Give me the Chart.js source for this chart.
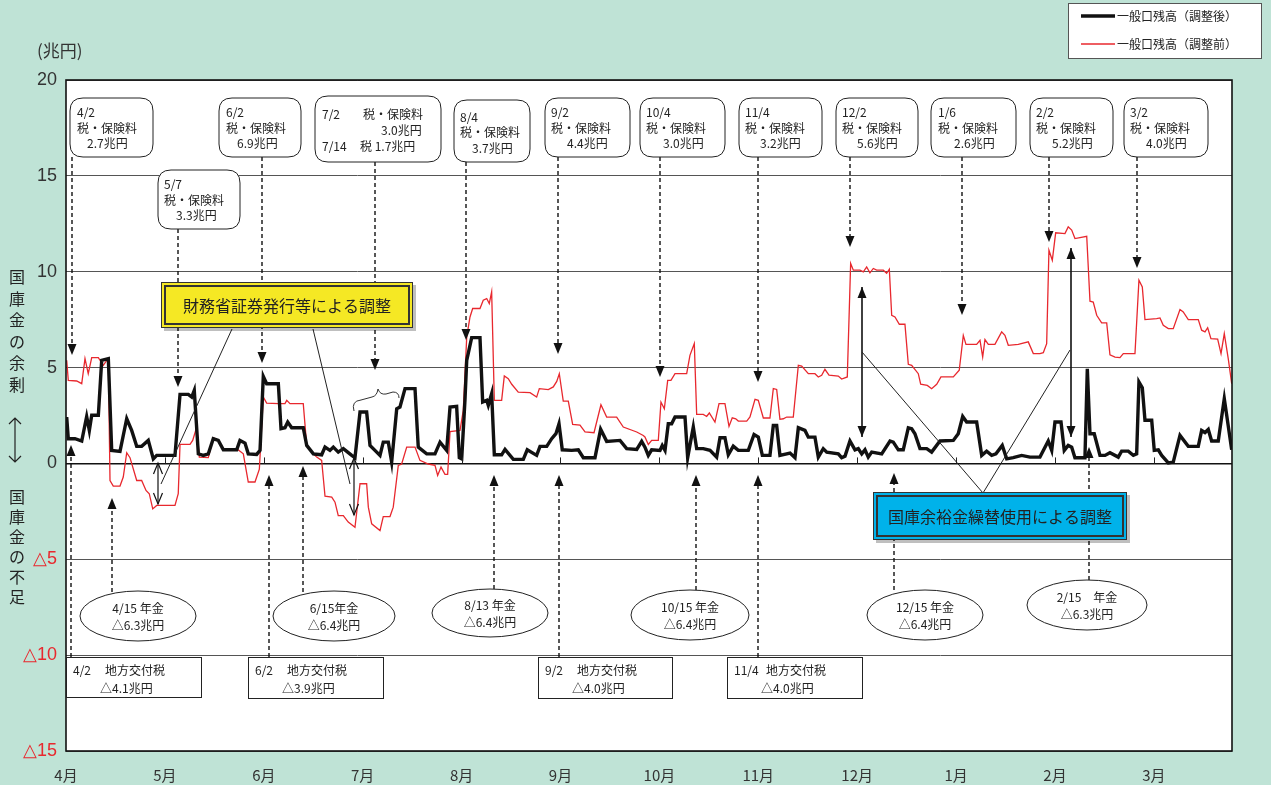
<!DOCTYPE html>
<html>
<head>
<meta charset="utf-8">
<script src="https://cdn.jsdelivr.net/npm/chart.js@4.4.0/dist/chart.umd.min.js"></script>
<style>
  html, body { margin: 0; padding: 0; background: #bfe3d6; }
  #wrap { width: 1271px; height: 785px; }
</style>
</head>
<body>
<div id="wrap"><canvas id="chart" width="1271" height="785"></canvas></div>
<script>
// 一般口残高の推移（調整後／調整前）
const monthLabels = ['4月', '5月', '6月', '7月', '8月', '9月', '10月', '11月', '12月', '1月', '2月', '3月'];
const yTickValues = [-15, -10, -5, 0, 5, 10, 15, 20];

// x は 4月初 = 0 とした月単位の位置
const adjX = [
  0.007, 0.023, 0.091, 0.159, 0.209, 0.236, 0.26, 0.327, 0.361, 0.428, 0.462, 0.546, 0.614, 0.664, 0.715, 0.765, 0.832, 0.883, 0.917, 1.102,
  1.153, 1.237, 1.271, 1.297, 1.338, 1.388, 1.439, 1.489, 1.54, 1.591, 1.726, 1.759, 1.81, 1.843, 1.928,
  1.962, 1.995, 2.029, 2.147, 2.174, 2.214, 2.242, 2.282, 2.399, 2.434, 2.501, 2.585, 2.619, 2.669, 2.703, 2.753, 2.804, 2.889, 2.922, 2.973,
  3.04, 3.074, 3.124, 3.175, 3.208, 3.259, 3.293, 3.344, 3.377, 3.428, 3.529, 3.562, 3.647, 3.731, 3.782, 3.849, 3.883,
  3.95, 3.977, 4.001, 4.034, 4.052, 4.102, 4.186, 4.213, 4.254, 4.27, 4.304, 4.331, 4.405, 4.439, 4.523, 4.624, 4.664, 4.759, 4.793, 4.861,
  4.911, 4.954, 4.985, 5.018, 5.113, 5.18, 5.231, 5.349, 5.406, 5.467, 5.602, 5.669, 5.771, 5.821,
  5.854, 5.888, 5.922, 6.006, 6.029, 6.057, 6.09, 6.124, 6.158, 6.259, 6.286, 6.343, 6.377, 6.444, 6.512, 6.579, 6.613, 6.663, 6.697, 6.747,
  6.798, 6.899, 6.957, 7.0, 7.041, 7.118, 7.152, 7.186, 7.219, 7.321, 7.371, 7.405, 7.472, 7.506, 7.573, 7.607, 7.657, 7.692, 7.809, 7.843,
  7.877, 7.927, 7.978, 8.011, 8.046, 8.079, 8.112, 8.147, 8.248, 8.332, 8.365, 8.416, 8.466, 8.517, 8.551, 8.584, 8.635, 8.703, 8.753, 8.837,
  8.972, 9.022, 9.067, 9.107, 9.208, 9.259, 9.309, 9.36, 9.403, 9.467, 9.512, 9.578, 9.663, 9.747, 9.848,
  9.932, 9.967, 10.0, 10.061, 10.094, 10.134, 10.169, 10.202, 10.303, 10.327, 10.354, 10.397, 10.455, 10.506, 10.556, 10.64, 10.674, 10.741, 10.792, 10.826,
  10.849, 10.883, 10.91, 10.978, 11.004, 11.045, 11.079, 11.146, 11.196, 11.264, 11.348, 11.449, 11.483, 11.517, 11.55, 11.584, 11.651, 11.712, 11.787
];
const adjY = [
  2.42, 1.29, 1.29, 1.17, 2.45, 1.72, 2.51, 2.51, 5.38, 5.47, 0.68, 0.63, 2.33, 1.72, 0.89, 0.89, 1.2, 0.24, 0.42, 0.42,
  3.6, 3.6, 3.46, 3.81, 0.5, 0.42, 0.5, 1.29, 1.2, 0.71, 0.71, 1.2, 1.06, 0.5, 0.47,
  0.68, 4.54, 4.16, 4.16, 1.81, 1.86, 2.16, 1.86, 1.86, 0.94, 0.5, 0.45, 0.85, 0.68, 0.85, 0.59, 0.77, 0.42, 0.3, 2.68,
  2.68, 0.94, 0.68, 0.42, 1.11, 1.11, 0.07, 2.85, 2.94, 3.9, 3.9, 0.85, 0.5, 0.5, 1.11, 0.68, 2.94,
  2.98, 0.3, 0.24, 3.29, 5.38, 6.56, 6.56, 3.2, 3.29, 3.03, 3.64, 0.45, 0.45, 0.73, 0.21, 0.21, 0.71, 0.42, 0.89, 0.89,
  1.29, 1.55, 2.07, 0.71, 0.68, 0.71, 0.3, 0.3, 1.78, 1.15, 1.2, 0.77, 0.73, 1.15,
  0.85, 0.42, 0.71, 0.68, 0.94, 0.68, 2.07, 2.07, 2.42, 2.42, 0.3, 1.9, 0.77, 0.77, 0.68, 0.33, 1.34, 1.34, 0.45, 0.9,
  0.68, 0.68, 1.51, 1.37, 0.42, 0.42, 1.98, 1.98, 0.42, 0.54, 0.3, 1.86, 1.72, 1.37, 1.37, 0.33, 0.77, 0.59, 0.5, 0.3,
  0.38, 1.17, 0.71, 0.77, 0.5, 0.71, 0.33, 0.59, 0.5, 1.17, 1.11, 0.71, 0.71, 1.86, 1.81, 1.55, 0.77, 0.77, 0.59, 1.17,
  1.2, 1.55, 2.45, 2.16, 2.16, 0.42, 0.64, 0.42, 0.5, 0.94, 0.24, 0.3, 0.42, 0.33, 0.33,
  1.17, 0.68, 2.16, 2.16, 0.68, 0.94, 0.85, 0.3, 0.3, 4.94, 1.55, 1.55, 0.42, 0.42, 0.56, 0.33, 0.64, 0.64, 0.42, 0.5,
  4.25, 3.95, 2.25, 2.25, 0.68, 0.71, 0.42, 0.03, 0.07, 1.46, 0.89, 0.89, 1.72, 1.61, 1.77, 1.17, 1.17, 3.38, 0.71
];

const rawX = [
  0.007, 0.023, 0.108, 0.159, 0.192, 0.225, 0.26, 0.327, 0.377, 0.412, 0.428, 0.445, 0.478, 0.546, 0.579, 0.614, 0.647, 0.715, 0.765, 0.809,
  0.842, 0.877, 0.917, 1.102, 1.135, 1.153, 1.254, 1.281, 1.322, 1.348, 1.439, 1.489, 1.54, 1.591, 1.726, 1.793, 1.843, 1.911, 1.955,
  1.995, 2.029, 2.147, 2.214, 2.232, 2.265, 2.399, 2.434, 2.501, 2.535, 2.585, 2.619, 2.687, 2.72, 2.753, 2.804, 2.854, 2.922, 2.973, 3.04,
  3.057, 3.091, 3.175, 3.208, 3.276, 3.309, 3.36, 3.394, 3.445, 3.529, 3.579, 3.663, 3.731, 3.758, 3.792, 3.832, 3.859, 3.883,
  3.984, 4.017, 4.052, 4.085, 4.112, 4.186, 4.219, 4.254, 4.28, 4.304, 4.331, 4.405, 4.432, 4.472, 4.507, 4.573, 4.692, 4.759, 4.786, 4.877,
  4.927, 4.962, 4.988, 5.028, 5.079, 5.123, 5.197, 5.248, 5.339, 5.409, 5.467, 5.568, 5.635, 5.771, 5.837,
  5.854, 5.888, 5.922, 5.989, 6.016, 6.05, 6.084, 6.117, 6.158, 6.276, 6.309, 6.353, 6.377, 6.444, 6.478, 6.505, 6.562, 6.603, 6.663, 6.704,
  6.737, 6.772, 6.798, 6.883, 6.916, 6.967, 7.0, 7.051, 7.118, 7.152, 7.186, 7.219, 7.253, 7.287, 7.354, 7.405, 7.439, 7.506, 7.573, 7.607,
  7.641, 7.674, 7.715, 7.809, 7.843,
  7.9, 7.934, 7.961, 8.028, 8.062, 8.096, 8.129, 8.163, 8.197, 8.264, 8.298, 8.325, 8.349, 8.382, 8.426, 8.483, 8.517, 8.551, 8.618, 8.642,
  8.709, 8.753, 8.804, 8.847, 8.972, 9.032, 9.073, 9.1, 9.208, 9.242, 9.269, 9.292, 9.326, 9.393, 9.461, 9.494, 9.528, 9.629, 9.73, 9.781, 9.848,
  9.882, 9.916, 9.939, 9.973, 10.007, 10.101, 10.134, 10.169, 10.202, 10.321, 10.354, 10.387, 10.422, 10.472, 10.523, 10.556, 10.607, 10.657, 10.691, 10.809,
  10.849, 10.883, 10.91, 11.028, 11.062, 11.095, 11.146, 11.196, 11.264, 11.297, 11.348, 11.449, 11.483, 11.517, 11.544, 11.577, 11.645, 11.679, 11.712, 11.752, 11.787
];
const rawY = [
  5.38, 4.33, 4.3, 4.16, 5.47, 4.68, 5.52, 5.52, 5.12, 5.38, 5.38, -0.89, -1.18, -1.18, -0.71, 0.56, 0.3, -0.89, -0.89, -1.41,
  -1.58, -2.37, -2.19, -2.19, -1.58, 0.99, 0.99, 1.2, 1.9, 0.33, 0.3, 1.34, 1.2, 0.77, 0.77, 0.5, -0.97, -0.97, -0.3,
  3.46, 3.15, 3.12, 3.12, 3.29, 3.12, 3.12, 0.94, 0.5, 0.33, 0.16, -1.71, -1.76, -2.02, -2.72, -2.72, -3.06, -3.33, -1.06, -1.06,
  -2.28, -3.15, -3.5, -2.77, -2.77, -2.28, -0.1, -0.03, 0.85, 0.85, 0.16, -0.03, -0.1, -0.63, -0.19, -0.57, -0.57, 1.66,
  1.72, 2.77, 6.6, 7.64, 8.08, 8.08, 8.51, 8.6, 8.34, 8.95, 3.29, 3.29, 4.56, 4.42, 4.13, 3.72, 3.69, 3.46, 3.9, 3.85,
  3.99, 4.28, 4.68, 3.25, 3.25, 2.04, 2.0, 1.64, 1.6, 3.06, 2.42, 2.42, 1.9, 1.64, 1.46,
  1.38, 0.99, 1.2, 1.2, 3.2, 2.85, 4.33, 4.33, 4.68, 4.68, 5.64, 6.25, 2.56, 2.56, 2.45, 2.63, 2.16, 3.12, 3.12, 1.93,
  2.38, 2.33, 2.21, 2.21, 2.42, 3.34, 3.29, 2.37, 2.37, 3.9, 3.86, 2.3, 2.33, 2.42, 2.42, 5.12, 5.08, 4.68, 4.68, 4.51,
  4.6, 4.91, 4.6, 4.56, 4.4,
  4.51, 10.43, 10.08, 10.08, 9.99, 10.25, 9.94, 10.17, 10.08, 10.08, 9.92, 10.13, 7.73, 7.64, 7.26, 7.26, 5.17, 5.12, 4.68, 4.13,
  4.07, 3.9, 4.13, 4.51, 4.51, 4.86, 6.68, 6.21, 6.21, 6.42, 5.55, 6.46, 6.21, 6.21, 6.86, 6.68, 6.16, 6.21, 6.34, 5.73, 5.73,
  5.78, 6.25, 11.12, 10.6, 12.03, 11.99, 12.34, 12.17, 11.73, 11.85, 8.46, 8.42, 7.73, 7.33, 7.33, 5.67, 5.55, 5.52, 5.73, 5.73,
  9.56, 9.21, 7.5, 7.55, 7.59, 7.21, 7.03, 7.03, 8.03, 7.9, 7.5, 7.5, 6.95, 6.86, 7.08, 6.51, 6.48, 5.73, 6.77, 5.47, 4.16
];

const seriesNames = ['一般口残高（調整後）', '一般口残高（調整前）'];

const JP = '"Noto Sans CJK JP", "Noto Sans", sans-serif';
const NUM = '"Liberation Sans", Arial, sans-serif';
const RED = '#e8282e';

// 上の税・保険料の吹き出し（角丸）
const topNotes = [
  { x: 70,   y: 98,  w: 83,  h: 59, ax: 72,   tip: 355, lines: [['4/2', 7, 14], ['税・保険料', 7, 30], ['2.7兆円', 17, 45]] },
  { x: 158,  y: 170, w: 82,  h: 59, ax: 178,  tip: 387, lines: [['5/7', 6, 14], ['税・保険料', 6, 30], ['3.3兆円', 18, 45]] },
  { x: 219,  y: 98,  w: 82,  h: 59, ax: 262,  tip: 363, lines: [['6/2', 7, 14], ['税・保険料', 7, 30], ['6.9兆円', 18, 45]] },
  { x: 315,  y: 96,  w: 126, h: 66, ax: 375,  tip: 370, lines: [['7/2', 7, 18], ['税・保険料', 48, 18], ['3.0兆円', 66, 34], ['7/14', 7, 50], ['税 1.7兆円', 45, 50]] },
  { x: 454,  y: 100, w: 76,  h: 62, ax: 466,  tip: 340, lines: [['8/4', 6, 17], ['税・保険料', 6, 32], ['3.7兆円', 18, 48]] },
  { x: 545,  y: 98,  w: 85,  h: 59, ax: 558,  tip: 354, lines: [['9/2', 6, 14], ['税・保険料', 6, 30], ['4.4兆円', 22, 45]] },
  { x: 640,  y: 98,  w: 85,  h: 59, ax: 660,  tip: 377, lines: [['10/4', 6, 14], ['税・保険料', 6, 30], ['3.0兆円', 23, 45]] },
  { x: 739,  y: 98,  w: 83,  h: 59, ax: 758,  tip: 382, lines: [['11/4', 6, 14], ['税・保険料', 6, 30], ['3.2兆円', 21, 45]] },
  { x: 836,  y: 98,  w: 82,  h: 59, ax: 850,  tip: 247, lines: [['12/2', 6, 14], ['税・保険料', 6, 30], ['5.6兆円', 21, 45]] },
  { x: 931,  y: 98,  w: 85,  h: 59, ax: 962,  tip: 315, lines: [['1/6', 7, 14], ['税・保険料', 7, 30], ['2.6兆円', 23, 45]] },
  { x: 1030, y: 98,  w: 83,  h: 59, ax: 1049, tip: 242, lines: [['2/2', 6, 14], ['税・保険料', 6, 30], ['5.2兆円', 22, 45]] },
  { x: 1124, y: 98,  w: 84,  h: 59, ax: 1137, tip: 268, lines: [['3/2', 6, 14], ['税・保険料', 6, 30], ['4.0兆円', 22, 45]] }
];

// 下の年金（楕円）
const pensionNotes = [
  { cx: 138,  cy: 616, rx: 58, ry: 25, ax: 112,  from: 592, tip: 498, lines: ['4/15 年金', '△6.3兆円'] },
  { cx: 334,  cy: 616, rx: 61, ry: 25, ax: 303,  from: 592, tip: 466, lines: ['6/15年金', '△6.4兆円'] },
  { cx: 490,  cy: 613, rx: 58, ry: 24, ax: 494,  from: 589, tip: 475, lines: ['8/13 年金', '△6.4兆円'] },
  { cx: 690,  cy: 615, rx: 59, ry: 25, ax: 696,  from: 590, tip: 475, lines: ['10/15 年金', '△6.4兆円'] },
  { cx: 925,  cy: 615, rx: 58, ry: 25, ax: 894,  from: 590, tip: 473, lines: ['12/15 年金', '△6.4兆円'] },
  { cx: 1087, cy: 605, rx: 60, ry: 25, ax: 1089, from: 580, tip: 447, lines: ['2/15　年金', '△6.3兆円'] }
];

// 下の地方交付税（四角）
const grantNotes = [
  { x: 66,  y: 657, w: 135, h: 40, ax: 71,  tip: 445, date: '4/2',  amount: '△4.1兆円' },
  { x: 248, y: 657, w: 135, h: 41, ax: 269, tip: 475, date: '6/2',  amount: '△3.9兆円' },
  { x: 538, y: 657, w: 134, h: 41, ax: 559, tip: 475, date: '9/2',  amount: '△4.0兆円' },
  { x: 727, y: 657, w: 135, h: 41, ax: 758, tip: 475, date: '11/4', amount: '△4.0兆円' }
];

function roundRectPath(ctx, x, y, w, h, r) {
  ctx.beginPath();
  ctx.moveTo(x + r, y);
  ctx.lineTo(x + w - r, y);
  ctx.quadraticCurveTo(x + w, y, x + w, y + r);
  ctx.lineTo(x + w, y + h - r);
  ctx.quadraticCurveTo(x + w, y + h, x + w - r, y + h);
  ctx.lineTo(x + r, y + h);
  ctx.quadraticCurveTo(x, y + h, x, y + h - r);
  ctx.lineTo(x, y + r);
  ctx.quadraticCurveTo(x, y, x + r, y);
  ctx.closePath();
}

function dashedArrow(ctx, x, y1, y2) {
  const dir = y2 > y1 ? 1 : -1;
  ctx.save();
  ctx.strokeStyle = '#111';
  ctx.lineWidth = 1.4;
  ctx.setLineDash([4, 3]);
  ctx.beginPath();
  ctx.moveTo(x, y1);
  ctx.lineTo(x, y2 - dir * 10);
  ctx.stroke();
  ctx.setLineDash([]);
  ctx.fillStyle = '#111';
  ctx.beginPath();
  ctx.moveTo(x, y2);
  ctx.lineTo(x - 4.5, y2 - dir * 11);
  ctx.lineTo(x + 4.5, y2 - dir * 11);
  ctx.closePath();
  ctx.fill();
  ctx.restore();
}

function doubleArrow(ctx, x, y1, y2, filled) {
  ctx.save();
  ctx.strokeStyle = '#111';
  ctx.fillStyle = '#111';
  ctx.lineWidth = filled ? 1.6 : 1.2;
  ctx.beginPath();
  ctx.moveTo(x, y1);
  ctx.lineTo(x, y2);
  ctx.stroke();
  [[y1, 1], [y2, -1]].forEach(([y, d]) => {
    ctx.beginPath();
    ctx.moveTo(x - 4.5, y + d * 11);
    ctx.lineTo(x, y);
    ctx.lineTo(x + 4.5, y + d * 11);
    if (filled) { ctx.closePath(); ctx.fill(); } else { ctx.stroke(); }
  });
  ctx.restore();
}

function line(ctx, x1, y1, x2, y2) {
  ctx.save();
  ctx.strokeStyle = '#222';
  ctx.lineWidth = 1;
  ctx.beginPath();
  ctx.moveTo(x1, y1);
  ctx.lineTo(x2, y2);
  ctx.stroke();
  ctx.restore();
}

function calloutBox(ctx, x, y, w, h, fill, text) {
  ctx.save();
  ctx.fillStyle = 'rgba(0,0,0,0.25)';
  ctx.fillRect(x + 3, y + 3, w, h);
  ctx.fillStyle = fill;
  ctx.fillRect(x, y, w, h);
  ctx.strokeStyle = '#333';
  ctx.lineWidth = 1;
  ctx.strokeRect(x + 0.5, y + 0.5, w - 1, h - 1);
  ctx.lineWidth = 2;
  ctx.strokeRect(x + 4, y + 4, w - 8, h - 8);
  ctx.fillStyle = '#222';
  ctx.font = '16px ' + JP;
  ctx.textAlign = 'center';
  ctx.textBaseline = 'middle';
  ctx.fillText(text, x + w / 2, y + h / 2 + 1);
  ctx.restore();
}

const frameAndBack = {
  id: 'frameAndBack',
  beforeDraw(chart) {
    const { ctx, chartArea: a } = chart;
    ctx.save();
    ctx.fillStyle = '#bfe3d6';
    ctx.fillRect(0, 0, chart.width, chart.height);
    ctx.fillStyle = '#ffffff';
    ctx.fillRect(a.left, a.top, a.right - a.left, a.bottom - a.top);
    ctx.restore();
  },
  afterDatasetsDraw(chart) {
    const { ctx, chartArea: a, scales } = chart;
    const y0 = scales.y.getPixelForValue(0);
    ctx.save();
    ctx.strokeStyle = '#222';
    ctx.lineWidth = 1;
    for (let m = 1; m < monthLabels.length; m++) {
      const x = Math.round(scales.x.getPixelForValue(m)) + 0.5;
      ctx.beginPath();
      ctx.moveTo(x, y0);
      ctx.lineTo(x, y0 - 6);
      ctx.stroke();
    }
    ctx.strokeStyle = '#111';
    ctx.lineWidth = 1.6;
    ctx.strokeRect(a.left, a.top, a.right - a.left, a.bottom - a.top);
    ctx.restore();
  }
};

const notesPlugin = {
  id: 'notes',
  afterDraw(chart) {
    const ctx = chart.ctx;
    ctx.save();

    // 単位と左側の縦書き
    ctx.fillStyle = '#333';
    ctx.font = '17px ' + JP;
    ctx.textAlign = 'left';
    ctx.textBaseline = 'middle';
    ctx.fillText('(兆円)', 37, 51);

    ctx.font = '16px ' + JP;
    ctx.textAlign = 'center';
    ctx.fillStyle = '#222';
    '国庫金の余剰'.split('').forEach((ch, i) => ctx.fillText(ch, 17, 277 + i * 21.5));
    '国庫金の不足'.split('').forEach((ch, i) => ctx.fillText(ch, 17, 497 + i * 20));
    ctx.strokeStyle = '#222';
    ctx.lineWidth = 1.2;
    ctx.beginPath();
    ctx.moveTo(15, 418); ctx.lineTo(15, 462);
    ctx.moveTo(9, 424); ctx.lineTo(15, 418); ctx.lineTo(21, 424);
    ctx.moveTo(9, 456); ctx.lineTo(15, 462); ctx.lineTo(21, 456);
    ctx.stroke();

    ctx.font = '12px ' + JP;
    ctx.textBaseline = 'middle';

    // 税・保険料
    topNotes.forEach(n => {
      dashedArrow(ctx, n.ax, n.y + n.h, n.tip);
      roundRectPath(ctx, n.x, n.y, n.w, n.h, 13);
      ctx.fillStyle = '#fff';
      ctx.fill();
      ctx.strokeStyle = '#222';
      ctx.lineWidth = 1;
      ctx.stroke();
      ctx.fillStyle = '#222';
      ctx.textAlign = 'left';
      n.lines.forEach(([t, dx, dy]) => ctx.fillText(t, n.x + dx, n.y + dy));
    });

    // 年金
    pensionNotes.forEach(n => {
      dashedArrow(ctx, n.ax, n.from, n.tip);
      ctx.beginPath();
      ctx.ellipse(n.cx, n.cy, n.rx, n.ry, 0, 0, Math.PI * 2);
      ctx.fillStyle = '#fff';
      ctx.fill();
      ctx.strokeStyle = '#222';
      ctx.lineWidth = 1;
      ctx.stroke();
      ctx.fillStyle = '#222';
      ctx.textAlign = 'center';
      ctx.fillText(n.lines[0], n.cx, n.cy - 8);
      ctx.fillText(n.lines[1], n.cx, n.cy + 9);
    });

    // 地方交付税
    grantNotes.forEach(n => {
      dashedArrow(ctx, n.ax, n.y, n.tip);
      ctx.fillStyle = '#fff';
      ctx.fillRect(n.x, n.y, n.w, n.h);
      ctx.strokeStyle = '#222';
      ctx.lineWidth = 1;
      ctx.strokeRect(n.x + 0.5, n.y + 0.5, n.w, n.h);
      ctx.fillStyle = '#222';
      ctx.textAlign = 'left';
      ctx.fillText(n.date, n.x + 7, n.y + 13);
      ctx.fillText('地方交付税', n.x + 39, n.y + 13);
      ctx.fillText(n.amount, n.x + 34, n.y + 31);
    });

    // 財務省証券発行等による調整
    doubleArrow(ctx, 158, 463, 504, false);
    doubleArrow(ctx, 354, 458, 515, false);
    line(ctx, 232, 329, 161, 484);
    line(ctx, 313, 329, 350, 484);
    calloutBox(ctx, 161, 282, 252, 46, '#f5e824', '財務省証券発行等による調整');

    // 7月の中括弧
    ctx.save();
    ctx.strokeStyle = '#333';
    ctx.lineWidth = 1;
    ctx.beginPath();
    ctx.moveTo(354, 411);
    ctx.quadraticCurveTo(351, 401, 361, 400);
    ctx.lineTo(372, 397);
    ctx.quadraticCurveTo(377, 396, 378, 389);
    ctx.quadraticCurveTo(380, 395, 386, 394);
    ctx.lineTo(393, 392);
    ctx.quadraticCurveTo(399, 392, 399, 398);
    ctx.stroke();
    ctx.restore();

    // 国庫余裕金繰替使用による調整
    doubleArrow(ctx, 862, 287, 437, true);
    doubleArrow(ctx, 1071, 248, 437, true);
    line(ctx, 983, 493, 862, 352);
    line(ctx, 983, 493, 1070, 350);
    calloutBox(ctx, 873, 492, 254, 48, '#00b2ea', '国庫余裕金繰替使用による調整');

    // 凡例
    ctx.fillStyle = '#fff';
    ctx.fillRect(1068, 3, 193, 55);
    ctx.strokeStyle = '#555';
    ctx.lineWidth = 1;
    ctx.strokeRect(1068.5, 3.5, 193, 55);
    const ds = chart.data.datasets;
    [[ds[0], 16], [ds[1], 44]].forEach(([d, y]) => {
      ctx.strokeStyle = d.borderColor;
      ctx.lineWidth = d.borderWidth;
      ctx.beginPath();
      ctx.moveTo(1081, y);
      ctx.lineTo(1115, y);
      ctx.stroke();
      ctx.fillStyle = '#222';
      ctx.textAlign = 'left';
      ctx.font = '12px ' + JP;
      ctx.fillText(d.label, 1117, y);
    });

    ctx.restore();
  }
};

const toPoints = (xs, ys) => xs.map((x, i) => ({ x, y: ys[i] }));

new Chart(document.getElementById('chart'), {
  type: 'line',
  data: {
    datasets: [
      {
        label: seriesNames[0],
        data: toPoints(adjX, adjY),
        borderColor: '#111111',
        borderWidth: 3.4,
        pointRadius: 0,
        tension: 0,
        borderJoinStyle: 'miter',
        order: 0
      },
      {
        label: seriesNames[1],
        data: toPoints(rawX, rawY),
        borderColor: RED,
        borderWidth: 1.3,
        pointRadius: 0,
        tension: 0,
        order: 1
      }
    ]
  },
  options: {
    responsive: false,
    animation: false,
    devicePixelRatio: 1,
    layout: { padding: { top: 80, right: 39, left: 0, bottom: 0 } },
    plugins: {
      legend: { display: false },
      tooltip: { enabled: false }
    },
    scales: {
      x: {
        type: 'linear',
        min: 0,
        max: 11.79,
        afterFit: s => { s.height = 34; },
        grid: { display: false, drawTicks: false },
        border: { display: false },
        ticks: {
          stepSize: 1,
          includeBounds: false,
          autoSkip: false,
          maxRotation: 0,
          padding: 15,
          color: '#333',
          font: { family: JP, size: 15 },
          callback: v => (Number.isInteger(v) ? monthLabels[v] : '')
        }
      },
      y: {
        min: -15,
        max: 20,
        afterFit: s => { s.width = 66; },
        afterBuildTicks: s => { s.ticks = yTickValues.map(v => ({ value: v })); },
        grid: {
          drawTicks: false,
          color: c => (c.tick && c.tick.value === 0 ? '#111' : '#555'),
          lineWidth: c => (c.tick && c.tick.value === 0 ? 1.4 : 1)
        },
        border: { display: false },
        ticks: {
          padding: 9,
          font: { family: NUM, size: 18 },
          color: c => (c.tick && c.tick.value < 0 ? RED : '#333'),
          callback: v => (v < 0 ? '△' + (-v) : String(v))
        }
      }
    }
  },
  plugins: [frameAndBack, notesPlugin]
});
</script>
</body>
</html>
